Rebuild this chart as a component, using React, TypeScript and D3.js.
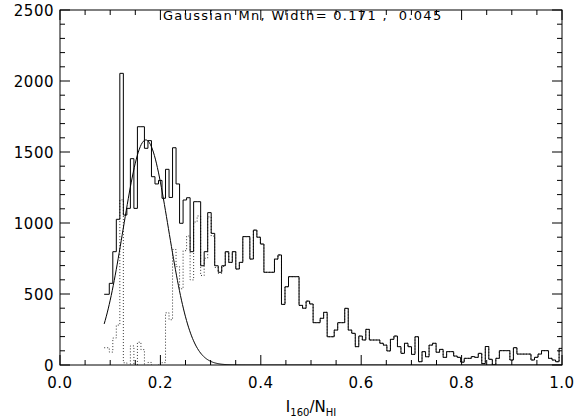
import * as d3 from "d3";

// histogram counts per bin
const counts = [
  498, 575, 798, 1026, 2054, 1056, 1103, 1453, 1103, 1678,
  1678, 1526, 1580, 1326, 1275, 1300, 1174, 1378, 1180, 1530,
  1275, 998, 1162, 1178, 798, 1150, 1150, 699, 798, 1073,
  927, 699, 653, 699, 798, 723, 798, 676, 723, 904,
  904, 746, 950, 900, 852, 653, 653, 653, 746, 775,
  427, 551, 622, 622, 622, 420, 400, 450, 430, 298,
  298, 329, 371, 199, 199, 246, 298, 298, 399, 246,
  223, 129, 204, 176, 251, 176, 176, 176, 153, 140,
  99, 181, 204, 129, 82, 153, 129, 75, 199, 23,
  94, 58, 140, 153, 90, 110, 54, 94, 94, 63,
  54, 20, 47, 47, 59, 54, 82, 10, 130, 40,
  0, 47, 101, 101, 101, 35, 122, 77, 77, 77,
  77, 35, 54, 77, 101, 101, 47, 35, 23, 117,
];
const binStart = 0.0912;
const binWidth = 0.007;
const histStartX = 0.088;

// gaussian fit (title values) and its peak height
const gaussMean = 0.171;
const gaussWidth = 0.045;
const gaussPeak = 1585;

const xTicks = [0, 0.2, 0.4, 0.6, 0.8, 1.0];
const xTickLabels = ["0.0", "0.2", "0.4", "0.6", "0.8", "1.0"];
const yTicks = [0, 500, 1000, 1500, 2000, 2500];
const xMinorStep = 0.05;
const yMinorStep = 100;

const titleText = "Gaussian Mn, Width= 0.171 ,  0.045";

const gauss = (v: number) =>
  gaussPeak * Math.exp(-((v - gaussMean) ** 2) / (2 * gaussWidth * gaussWidth));

export default function App() {
  const W = 574, H = 420;
  const x = d3.scaleLinear().domain([0, 1]).range([60, 562]);
  const y = d3.scaleLinear().domain([0, 2500]).range([365, 10]);
  const font = "'DejaVu Sans', sans-serif";

  const edgesLeft = counts.map((_, i) => (i === 0 ? histStartX : binStart + i * binWidth));
  const lastRight = binStart + counts.length * binWidth;

  const step = d3.line<[number, number]>().x(d => x(d[0])).y(d => y(d[1])).curve(d3.curveStepAfter);
  const histPts: [number, number][] = counts.map((c, i) => [edgesLeft[i], c]);
  histPts.push([Math.min(lastRight, 1), counts[counts.length - 1]]);

  // dotted: histogram minus the gaussian
  const resid = counts.map((c, i) => c - gauss(binStart + (i + 0.5) * binWidth));
  const residPts: [number, number][] = resid.map((r, i) => [edgesLeft[i], r]);
  residPts.push([Math.min(lastRight, 1), resid[resid.length - 1]]);

  const gx = d3.range(histStartX, 1.0001, 0.002);
  const gLine = d3.line<number>().x(d => x(d)).y(d => y(gauss(d)));

  const xMinor = d3.range(0, 1.0001, xMinorStep);
  const yMinor = d3.range(0, 2500.1, yMinorStep);
  const isMajorX = (v: number) => xTicks.some(t => Math.abs(t - v) < 1e-6);
  const isMajorY = (v: number) => yTicks.some(t => Math.abs(t - v) < 1e-6);

  const [x0, x1] = x.range();
  const [y0, y1] = y.range();

  return (
    <svg width={W} height={H} style={{ position: "absolute", left: 0, top: 0, background: "#fff" }}
      fontFamily={font}>
      <defs>
        <clipPath id="plot">
          <rect x={x0} y={y1} width={x1 - x0} height={y0 - y1} />
        </clipPath>
      </defs>
      <rect x={0} y={0} width={W} height={H} fill="#fff" />

      <g clipPath="url(#plot)" fill="none">
        <path d={step(residPts) || ""} stroke="#333" strokeWidth={1} strokeDasharray="1,2" />
        <path d={step(histPts) || ""} stroke="#000" strokeWidth={1} />
        <path d={gLine(gx) || ""} stroke="#000" strokeWidth={1} />
      </g>

      {/* frame */}
      <rect x={x0} y={y1} width={x1 - x0} height={y0 - y1} fill="none" stroke="#000" strokeWidth={1} />

      {/* x ticks, bottom and top */}
      {xMinor.map((v, i) => {
        const len = isMajorX(v) ? 10 : 5;
        const px = x(v);
        return (
          <g key={"xt" + i} stroke="#000" strokeWidth={1}>
            <line x1={px} x2={px} y1={y0} y2={y0 - len} />
            <line x1={px} x2={px} y1={y1} y2={y1 + len} />
          </g>
        );
      })}
      {/* y ticks, left and right */}
      {yMinor.map((v, i) => {
        const len = isMajorY(v) ? 10 : 5;
        const py = y(v);
        return (
          <g key={"yt" + i} stroke="#000" strokeWidth={1}>
            <line x1={x0} x2={x0 + len} y1={py} y2={py} />
            <line x1={x1} x2={x1 - len} y1={py} y2={py} />
          </g>
        );
      })}

      {xTicks.map((v, i) => (
        <text key={"xl" + i} x={x(v)} y={388} textAnchor="middle" fontSize={15} letterSpacing={0.5} fill="#000">
          {xTickLabels[i]}
        </text>
      ))}
      {yTicks.map((v, i) => (
        <text key={"yl" + i} x={54} y={y(v) + 1} dominantBaseline="middle" textAnchor="end" fontSize={15}
          letterSpacing={0.5} fill="#000">
          {v}
        </text>
      ))}

      <text x={163} y={20} textAnchor="start" fontSize={13} letterSpacing={1.3} fill="#000"
        style={{ whiteSpace: "pre" }}>
        {titleText}
      </text>

      <text x={311} y={412} textAnchor="middle" fontSize={15} fill="#000">
        I<tspan fontSize={10} dy={4}>160</tspan>
        <tspan dy={-4}>/N</tspan>
        <tspan fontSize={10} dy={4}>HI</tspan>
      </text>
    </svg>
  );
}
